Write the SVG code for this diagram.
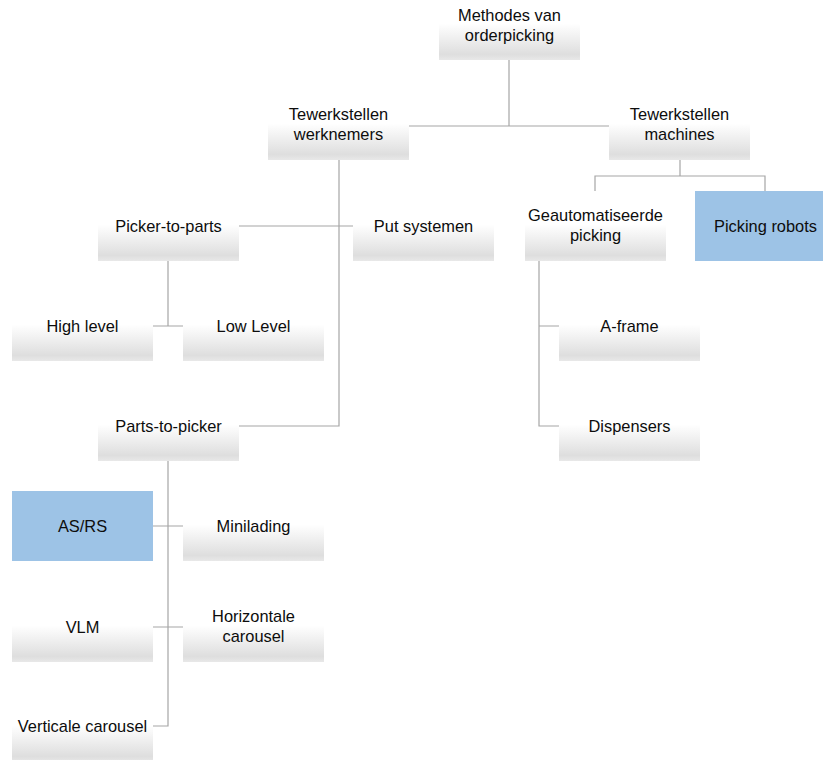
<svg xmlns="http://www.w3.org/2000/svg" width="823" height="760" viewBox="0 0 823 760">
  <defs>
    <linearGradient id="nodeFill" x1="0" y1="0" x2="0" y2="1">
      <stop offset="0" stop-color="#ffffff"/>
      <stop offset="0.48" stop-color="#ffffff"/>
      <stop offset="0.6" stop-color="#f6f6f6"/>
      <stop offset="0.92" stop-color="#dedede"/>
      <stop offset="1" stop-color="#e8e8e8"/>
    </linearGradient>
    <style>
      .box { fill: url(#nodeFill); }
      .hl { fill: #9dc3e6; }
      .lbl { font-family: "Liberation Sans", Arial, sans-serif; font-size: 16.4px; fill: #0d0d0d; text-anchor: middle; }
      .conn { fill: none; stroke: #a6a6a6; stroke-width: 1.2; }
    </style>
  </defs>
  <rect width="823" height="760" fill="#ffffff"/>

  <g id="connectors">
    <!-- root to the two main branches -->
    <path class="conn" d="M509 60 V126 M408 126 H610"/>
    <!-- workers branch -->
    <path class="conn" d="M339 160 V426 H238 M238 226 H353"/>
    <path class="conn" d="M168 261 V326 M153 326 H183"/>
    <path class="conn" d="M168 461 V726 H153 M153 526 H183 M153 627 H183"/>
    <!-- machines branch -->
    <path class="conn" d="M680 160 V176 M595 191 V176 H765 V191"/>
    <path class="conn" d="M539 261 V426 H559 M539 326 H559"/>
  </g>

  <g id="n-root">
    <rect class="box" x="439" y="-10" width="141" height="70"/>
    <text class="lbl" x="509.5" y="21">Methodes van</text>
    <text class="lbl" x="509.5" y="41">orderpicking</text>
  </g>
  <g id="n-werknemers">
    <rect class="box" x="268" y="90" width="141" height="70"/>
    <text class="lbl" x="338.5" y="120">Tewerkstellen</text>
    <text class="lbl" x="338.5" y="140">werknemers</text>
  </g>
  <g id="n-machines">
    <rect class="box" x="609" y="90" width="141" height="70"/>
    <text class="lbl" x="679.5" y="120">Tewerkstellen</text>
    <text class="lbl" x="679.5" y="140">machines</text>
  </g>
  <g id="n-picker-to-parts">
    <rect class="box" x="98" y="191" width="141" height="70"/>
    <text class="lbl" x="168.5" y="232">Picker-to-parts</text>
  </g>
  <g id="n-put">
    <rect class="box" x="353" y="191" width="141" height="70"/>
    <text class="lbl" x="423.5" y="232">Put systemen</text>
  </g>
  <g id="n-high">
    <rect class="box" x="12" y="291" width="141" height="70"/>
    <text class="lbl" x="82.5" y="332">High level</text>
  </g>
  <g id="n-low">
    <rect class="box" x="183" y="291" width="141" height="70"/>
    <text class="lbl" x="253.5" y="332">Low Level</text>
  </g>
  <g id="n-parts-to-picker">
    <rect class="box" x="98" y="391" width="141" height="70"/>
    <text class="lbl" x="168.5" y="432">Parts-to-picker</text>
  </g>
  <g id="n-asrs">
    <rect class="hl" x="12" y="491" width="141" height="70"/>
    <text class="lbl" x="82.5" y="532">AS/RS</text>
  </g>
  <g id="n-minilading">
    <rect class="box" x="183" y="491" width="141" height="70"/>
    <text class="lbl" x="253.5" y="532">Minilading</text>
  </g>
  <g id="n-vlm">
    <rect class="box" x="12" y="592" width="141" height="70"/>
    <text class="lbl" x="82.5" y="633">VLM</text>
  </g>
  <g id="n-horizontale">
    <rect class="box" x="183" y="592" width="141" height="70"/>
    <text class="lbl" x="253.5" y="622">Horizontale</text>
    <text class="lbl" x="253.5" y="642">carousel</text>
  </g>
  <g id="n-verticale">
    <rect class="box" x="12" y="692" width="141" height="70"/>
    <text class="lbl" x="82.5" y="732">Verticale carousel</text>
  </g>
  <g id="n-geautomatiseerd">
    <rect class="box" x="525" y="191" width="141" height="70"/>
    <text class="lbl" x="595.5" y="221">Geautomatiseerde</text>
    <text class="lbl" x="595.5" y="241">picking</text>
  </g>
  <g id="n-robots">
    <rect class="hl" x="695" y="191" width="141" height="70"/>
    <text class="lbl" x="765.5" y="232">Picking robots</text>
  </g>
  <g id="n-aframe">
    <rect class="box" x="559" y="291" width="141" height="70"/>
    <text class="lbl" x="629.5" y="332">A-frame</text>
  </g>
  <g id="n-dispensers">
    <rect class="box" x="559" y="391" width="141" height="70"/>
    <text class="lbl" x="629.5" y="432">Dispensers</text>
  </g>
</svg>
